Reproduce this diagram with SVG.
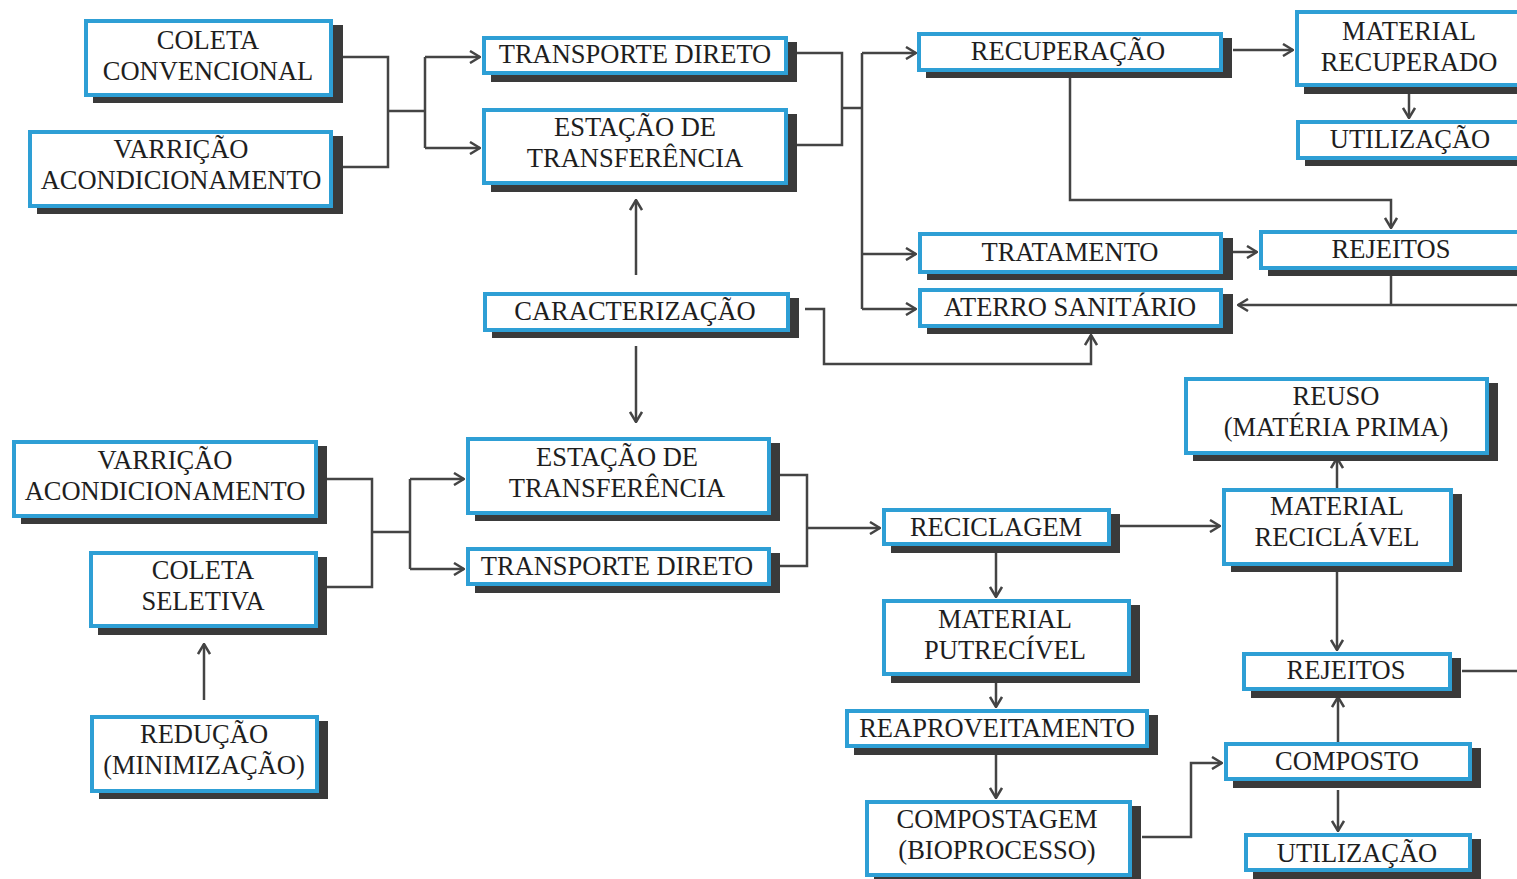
<svg xmlns="http://www.w3.org/2000/svg" width="1517" height="879" viewBox="0 0 1517 879">
<style>
.sh{fill:#3a3a3a}
.bx{fill:#fff;stroke:#2e9fd5;stroke-width:4}
.t{font-family:"Liberation Serif","Times New Roman",serif;font-size:26.5px;fill:#1e1e1e;text-anchor:middle}
.c{fill:none;stroke:#444;stroke-width:2.5}
.a{fill:none;stroke:#444;stroke-width:2.5;marker-end:url(#ah)}
</style>
<defs>
<marker id="ah" viewBox="0 0 12 14" refX="11" refY="7" markerWidth="12" markerHeight="14" markerUnits="userSpaceOnUse" orient="auto">
<path d="M1,1 L11,7 L1,13" fill="none" stroke="#444" stroke-width="2.5"/>
</marker>
</defs>
<rect width="1517" height="879" fill="#fff"/>

<g id="connectors">
<path class="c" d="M343,57 H388 V167 H343 M388,111 H425 M425,57 V148"/>
<path class="a" d="M425,57 H480"/>
<path class="a" d="M425,148 H480"/>
<path class="c" d="M797,53 H842 V145 H797 M842,108 H862 M862,53 V309"/>
<path class="a" d="M862,53 H916"/>
<path class="a" d="M862,254 H916"/>
<path class="a" d="M862,309 H916"/>
<path class="a" d="M1233,50 H1293"/>
<path class="a" d="M1409,93 V118"/>
<path class="a" d="M1070,74 V200 H1391 V228"/>
<path class="a" d="M1233,252 H1257"/>
<path class="c" d="M1391,276 V305"/>
<path class="a" d="M1517,305 H1238"/>
<path class="a" d="M636,275 V200"/>
<path class="a" d="M636,346 V422"/>
<path class="a" d="M805,309 H824 V364 H1091 V335"/>
<path class="a" d="M204,700 V644"/>
<path class="c" d="M327,479 H372 V587 H327 M372,532 H410 M410,479 V569"/>
<path class="a" d="M410,479 H464"/>
<path class="a" d="M410,569 H464"/>
<path class="c" d="M780,475 H807 V566 H780"/>
<path class="a" d="M807,528 H880"/>
<path class="a" d="M1120,526 H1220"/>
<path class="a" d="M1337,488 V458"/>
<path class="a" d="M1337,572 V650"/>
<path class="c" d="M1462,671 H1517"/>
<path class="a" d="M1338,742 V697"/>
<path class="a" d="M1338,790 V831"/>
<path class="a" d="M996,552 V597"/>
<path class="a" d="M996,682 V707"/>
<path class="a" d="M996,752 V798"/>
<path class="a" d="M1142,837 H1191 V763 H1222"/>
</g>

<g id="coleta-convencional"><rect class="sh" x="93" y="25" width="250" height="78"/><rect class="bx" x="86" y="21" width="245" height="74"/><text class="t" x="208" y="49">COLETA</text><text class="t" x="208" y="80">CONVENCIONAL</text></g>
<g id="varricao-1"><rect class="sh" x="37" y="136" width="306" height="78"/><rect class="bx" x="30" y="132" width="301" height="74"/><text class="t" x="181" y="158">VARRIÇÃO</text><text class="t" x="181" y="189">ACONDICIONAMENTO</text></g>
<g id="transporte-1"><rect class="sh" x="491" y="42" width="306" height="40"/><rect class="bx" x="484" y="38" width="302" height="35"/><text class="t" x="635" y="63">TRANSPORTE DIRETO</text></g>
<g id="estacao-1"><rect class="sh" x="491" y="114" width="306" height="78"/><rect class="bx" x="484" y="110" width="302" height="73"/><text class="t" x="635" y="136">ESTAÇÃO DE</text><text class="t" x="635" y="167">TRANSFERÊNCIA</text></g>
<g id="recuperacao"><rect class="sh" x="926" y="38" width="306" height="40"/><rect class="bx" x="919" y="34" width="302" height="36"/><text class="t" x="1068" y="60">RECUPERAÇÃO</text></g>
<g id="material-recuperado"><rect class="sh" x="1304" y="16" width="230" height="78"/><rect class="bx" x="1297" y="12" width="230" height="73"/><text class="t" x="1409" y="40">MATERIAL</text><text class="t" x="1409" y="71">RECUPERADO</text></g>
<g id="utilizacao-1"><rect class="sh" x="1305" y="126" width="230" height="40"/><rect class="bx" x="1298" y="122" width="230" height="36"/><text class="t" x="1410" y="148">UTILIZAÇÃO</text></g>
<g id="tratamento"><rect class="sh" x="927" y="238" width="306" height="42"/><rect class="bx" x="920" y="234" width="301" height="38"/><text class="t" x="1070" y="261">TRATAMENTO</text></g>
<g id="rejeitos-1"><rect class="sh" x="1268" y="236" width="260" height="40"/><rect class="bx" x="1261" y="232" width="262" height="36"/><text class="t" x="1391" y="258">REJEITOS</text></g>
<g id="aterro-sanitario"><rect class="sh" x="927" y="294" width="306" height="40"/><rect class="bx" x="920" y="290" width="301" height="36"/><text class="t" x="1070" y="316">ATERRO SANITÁRIO</text></g>
<g id="caracterizacao"><rect class="sh" x="492" y="298" width="307" height="40"/><rect class="bx" x="485" y="294" width="303" height="36"/><text class="t" x="635" y="320">CARACTERIZAÇÃO</text></g>
<g id="varricao-2"><rect class="sh" x="21" y="446" width="306" height="78"/><rect class="bx" x="14" y="442" width="302" height="74"/><text class="t" x="165" y="469">VARRIÇÃO</text><text class="t" x="165" y="500">ACONDICIONAMENTO</text></g>
<g id="coleta-seletiva"><rect class="sh" x="98" y="557" width="229" height="78"/><rect class="bx" x="91" y="553" width="225" height="73"/><text class="t" x="203" y="579">COLETA</text><text class="t" x="203" y="610">SELETIVA</text></g>
<g id="reducao"><rect class="sh" x="99" y="721" width="229" height="78"/><rect class="bx" x="92" y="717" width="225" height="74"/><text class="t" x="204" y="743">REDUÇÃO</text><text class="t" x="204" y="774">(MINIMIZAÇÃO)</text></g>
<g id="estacao-2"><rect class="sh" x="475" y="443" width="305" height="78"/><rect class="bx" x="468" y="439" width="301" height="74"/><text class="t" x="617" y="466">ESTAÇÃO DE</text><text class="t" x="617" y="497">TRANSFERÊNCIA</text></g>
<g id="transporte-2"><rect class="sh" x="475" y="553" width="305" height="40"/><rect class="bx" x="468" y="549" width="301" height="35"/><text class="t" x="617" y="575">TRANSPORTE DIRETO</text></g>
<g id="reciclagem"><rect class="sh" x="891" y="514" width="229" height="39"/><rect class="bx" x="884" y="510" width="225" height="34"/><text class="t" x="996" y="536">RECICLAGEM</text></g>
<g id="material-reciclavel"><rect class="sh" x="1231" y="494" width="231" height="78"/><rect class="bx" x="1224" y="490" width="227" height="74"/><text class="t" x="1337" y="515">MATERIAL</text><text class="t" x="1337" y="546">RECICLÁVEL</text></g>
<g id="reuso"><rect class="sh" x="1193" y="383" width="305" height="78"/><rect class="bx" x="1186" y="379" width="301" height="74"/><text class="t" x="1336" y="405">REUSO</text><text class="t" x="1336" y="436">(MATÉRIA PRIMA)</text></g>
<g id="rejeitos-2"><rect class="sh" x="1251" y="658" width="210" height="40"/><rect class="bx" x="1244" y="654" width="206" height="35"/><text class="t" x="1346" y="679">REJEITOS</text></g>
<g id="composto"><rect class="sh" x="1233" y="748" width="248" height="40"/><rect class="bx" x="1226" y="744" width="244" height="35"/><text class="t" x="1347" y="770">COMPOSTO</text></g>
<g id="utilizacao-2"><rect class="sh" x="1253" y="839" width="228" height="40"/><rect class="bx" x="1246" y="835" width="224" height="35"/><text class="t" x="1357" y="862">UTILIZAÇÃO</text></g>
<g id="material-putrecivel"><rect class="sh" x="891" y="605" width="249" height="78"/><rect class="bx" x="884" y="601" width="245" height="73"/><text class="t" x="1005" y="628">MATERIAL</text><text class="t" x="1005" y="659">PUTRECÍVEL</text></g>
<g id="reaproveitamento"><rect class="sh" x="854" y="715" width="304" height="40"/><rect class="bx" x="847" y="711" width="300" height="35"/><text class="t" x="997" y="737">REAPROVEITAMENTO</text></g>
<g id="compostagem"><rect class="sh" x="874" y="806" width="267" height="78"/><rect class="bx" x="867" y="802" width="263" height="73"/><text class="t" x="997" y="828">COMPOSTAGEM</text><text class="t" x="997" y="859">(BIOPROCESSO)</text></g>
</svg>
